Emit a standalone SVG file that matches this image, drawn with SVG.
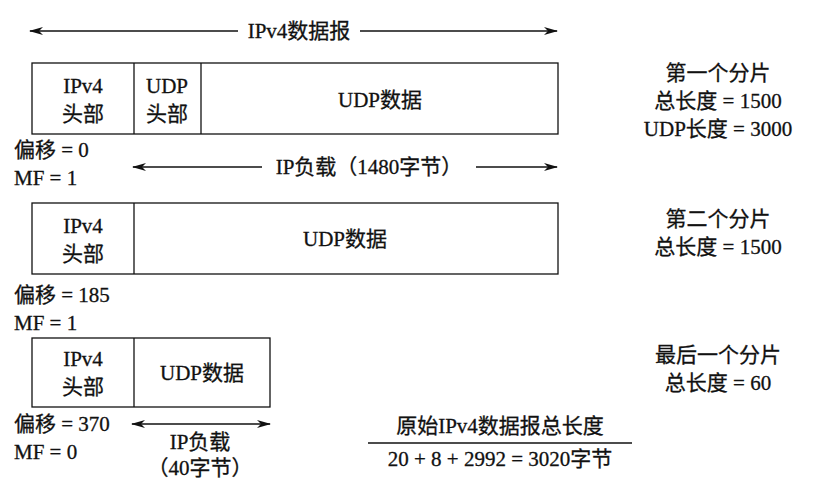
<svg xmlns="http://www.w3.org/2000/svg" width="830" height="492" viewBox="0 0 830 492">
<style>
text{font-family:"Liberation Serif","Noto Sans CJK SC",serif;font-size:21px;fill:#111;stroke:#111;stroke-width:0.3}
.c{text-anchor:middle}
.b{fill:#fff;stroke:#111;stroke-width:1.3}
.l{stroke:#111;stroke-width:1.3;fill:none}
</style>
<defs><marker id="a" markerWidth="14" markerHeight="8" refX="13" refY="4" orient="auto-start-reverse" markerUnits="userSpaceOnUse"><path d="M0,0 L14,4 L0,8 L4,4 Z" fill="#111"/></marker></defs>
<rect width="830" height="492" fill="#fff"/>
<g id="connectors">
<line class="l" x1="30" y1="31" x2="238" y2="31" marker-start="url(#a)"/>
<line class="l" x1="360" y1="31" x2="557" y2="31" marker-end="url(#a)"/>
<line class="l" x1="133" y1="167" x2="262" y2="167" marker-start="url(#a)"/>
<line class="l" x1="476" y1="167" x2="557" y2="167" marker-end="url(#a)"/>
<line class="l" x1="132" y1="424" x2="270" y2="424" marker-start="url(#a)" marker-end="url(#a)"/>
<line class="l" x1="368" y1="443" x2="632" y2="443"/>
</g>
<text class="c" x="299" y="38">IPv4数据报</text>
<g id="frag1">
<rect class="b" x="32" y="63" width="526" height="71"/>
<line class="l" x1="134" y1="63" x2="134" y2="134"/>
<line class="l" x1="201" y1="63" x2="201" y2="134"/>
<text class="c" x="83" y="93">IPv4</text><text class="c" x="83" y="121">头部</text>
<text class="c" x="167" y="93">UDP</text><text class="c" x="167" y="121">头部</text>
<text class="c" x="380" y="107">UDP数据</text>
</g>
<text x="14" y="157">偏移 = 0</text>
<text x="14" y="185">MF = 1</text>
<text class="c" x="369" y="174">IP负载（1480字节）</text>
<g id="info1">
<text class="c" x="718" y="80">第一个分片</text>
<text class="c" x="718" y="108">总长度 = 1500</text>
<text class="c" x="718" y="136">UDP长度 = 3000</text>
</g>
<g id="frag2">
<rect class="b" x="32" y="203" width="526" height="71"/>
<line class="l" x1="134" y1="203" x2="134" y2="274"/>
<text class="c" x="83" y="233">IPv4</text><text class="c" x="83" y="261">头部</text>
<text class="c" x="345" y="246">UDP数据</text>
</g>
<text class="c" x="718" y="226">第二个分片</text>
<text class="c" x="718" y="254">总长度 = 1500</text>
<text x="14" y="302">偏移 = 185</text>
<text x="14" y="330">MF = 1</text>
<g id="frag3">
<rect class="b" x="32" y="338" width="238" height="69"/>
<line class="l" x1="134" y1="338" x2="134" y2="407"/>
<text class="c" x="83" y="366">IPv4</text><text class="c" x="83" y="394">头部</text>
<text class="c" x="202" y="380">UDP数据</text>
</g>
<text class="c" x="718" y="362">最后一个分片</text>
<text class="c" x="718" y="390">总长度 = 60</text>
<text x="14" y="431">偏移 = 370</text>
<text x="14" y="459">MF = 0</text>
<text class="c" x="200" y="449">IP负载</text>
<text class="c" x="200" y="475">（40字节）</text>
<text class="c" x="500" y="433">原始IPv4数据报总长度</text>
<text class="c" x="500" y="466">20 + 8 + 2992 = 3020字节</text>
</svg>
